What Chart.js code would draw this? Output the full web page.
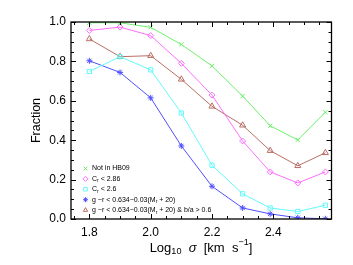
<!DOCTYPE html>
<html>
<head>
<meta charset="utf-8">
<script src="https://cdn.jsdelivr.net/npm/chart.js@4.4.1/dist/chart.umd.min.js"></script>
<style>
  html, body { margin: 0; padding: 0; background: #fff; }
  #wrap { width: 353px; height: 265px; }
</style>
</head>
<body>
<div id="wrap"><canvas id="grafico" width="353" height="265"></canvas></div>
<script>
// log10 sigma bins
var sigmas = [1.8, 1.9, 2.0, 2.1, 2.2, 2.3, 2.39, 2.48, 2.57];

var naoHB09 = [0.996, 0.996, 0.973, 0.886, 0.777, 0.624, 0.473, 0.401, 0.542];
var cr286 = [0.957, 0.974, 0.931, 0.790, 0.629, 0.396, 0.239, 0.183, 0.239];
var cr26 = [0.749, 0.824, 0.757, 0.538, 0.273, 0.128, 0.056, 0.038, 0.070];
var corGr = [0.803, 0.744, 0.615, 0.371, 0.166, 0.056, 0.026, 0.006, 0.001];
var corGrBa = [0.914, 0.824, 0.829, 0.709, 0.572, 0.476, 0.347, 0.270, 0.336];

var xTicks = [1.8, 2.0, 2.2, 2.4];
var yTicks = [0.0, 0.2, 0.4, 0.6, 0.8, 1.0];

var fonte = '"Liberation Sans", Arial, sans-serif';

function Pontos(valores) {
    var pts = [];
    for (var i = 0; i < sigmas.length; i++) {
        pts.push({ x: sigmas[i], y: valores[i] });
    }
    return pts;
}

function Serie(valores, cor, estilo, raio) {
    return {
        data: Pontos(valores),
        showLine: true,
        borderColor: cor,
        backgroundColor: 'rgba(0,0,0,0)',
        borderWidth: 1,
        pointStyle: estilo,
        pointRadius: raio,
        pointBorderColor: cor,
        pointBorderWidth: 1,
        pointBackgroundColor: 'rgba(0,0,0,0)',
        tension: 0
    };
}

var verde = 'rgb(110,240,110)';
var magenta = 'rgb(255,110,255)';
var ciano = 'rgb(100,250,250)';
var azul = 'rgb(80,80,255)';
var marrom = 'rgb(185,110,100)';

// legend rows: [segments, colour, pointStyle]
var legendaItens = [
    [[['Not in HB09', 0]], verde, 'crossRot'],
    [[['C', 0], ['r', 1], [' < 2.86', 0]], magenta, 'rectRot'],
    [[['C', 0], ['r', 1], [' < 2.6', 0]], ciano, 'rect'],
    [[['g \u2212r < 0.634\u22120.03(M', 0], ['r', 1], [' + 20)', 0]], azul, 'star'],
    [[['g \u2212r < 0.634\u22120.03(M', 0], ['r', 1], [' + 20) & b/a > 0.6', 0]], marrom, 'triangle']
];

function TextoPartes(ctx, partes, x, y, tam) {
    for (var i = 0; i < partes.length; i++) {
        var p = partes[i];
        var t = p[1] ? tam * 0.7 : tam;
        var dy = p[1] === 1 ? tam * 0.3 : (p[1] === 2 ? -tam * 0.4 : 0);
        ctx.font = (p[2] ? 'italic ' : '') + t + 'px ' + fonte;
        ctx.fillText(p[0], x, y + dy);
        x += ctx.measureText(p[0]).width;
    }
    return x;
}

function LarguraPartes(ctx, partes, tam) {
    var w = 0;
    for (var i = 0; i < partes.length; i++) {
        var p = partes[i];
        var t = p[1] ? tam * 0.7 : tam;
        ctx.font = (p[2] ? 'italic ' : '') + t + 'px ' + fonte;
        w += ctx.measureText(p[0]).width;
    }
    return w;
}

var moldura = {
    id: 'moldura',
    afterDraw: function (chart) {
        var ctx = chart.ctx;
        var a = chart.chartArea;
        var sx = chart.scales.x, sy = chart.scales.y;
        ctx.save();
        ctx.strokeStyle = '#000';
        ctx.lineWidth = 1.3;
        ctx.strokeRect(a.left, a.top, a.right - a.left, a.bottom - a.top);

        ctx.lineWidth = 1;
        ctx.beginPath();
        // x ticks, major every 0.2 and minor every 0.05
        for (var k = 0; k <= 20; k++) {
            var v = 1.75 + k * 0.05;
            if (v > sx.max + 1e-9) break;
            var px = Math.round(sx.getPixelForValue(v)) + 0.5;
            var maior = Math.abs((v - 1.8) / 0.2 - Math.round((v - 1.8) / 0.2)) < 1e-6;
            var len = maior ? 5 : 3;
            ctx.moveTo(px, a.bottom); ctx.lineTo(px, a.bottom - len);
            ctx.moveTo(px, a.top); ctx.lineTo(px, a.top + len);
        }
        for (var j = 0; j <= 20; j++) {
            var w = j * 0.05;
            var py = Math.round(sy.getPixelForValue(w)) + 0.5;
            var maiorY = j % 4 === 0;
            var lenY = maiorY ? 5 : 3;
            ctx.moveTo(a.left, py); ctx.lineTo(a.left + lenY, py);
            ctx.moveTo(a.right, py); ctx.lineTo(a.right - lenY, py);
        }
        ctx.stroke();

        // legend
        var yl = 168.5;
        for (var i = 0; i < legendaItens.length; i++) {
            var it = legendaItens[i];
            ctx.strokeStyle = it[1];
            ctx.fillStyle = 'rgba(0,0,0,0)';
            ctx.lineWidth = 1;
            Chart.helpers.drawPoint(ctx, {
                pointStyle: it[2], radius: 2.5, borderWidth: 1, rotation: 0
            }, 85.5, yl);
            ctx.fillStyle = '#000';
            ctx.textBaseline = 'middle';
            TextoPartes(ctx, it[0], 92, yl, 7);
            yl += 10.4;
        }

        // x title
        var titulo = [['Log', 0], ['10', 1], ['  ', 0], ['\u03c3', 0, true], ['  [km  s', 0], ['\u22121', 2], [']', 0]];
        ctx.fillStyle = '#000';
        ctx.textBaseline = 'middle';
        var wt = LarguraPartes(ctx, titulo, 13);
        TextoPartes(ctx, titulo, 201 - wt / 2, 248, 13);

        // y title
        ctx.translate(37, (a.top + a.bottom) / 2);
        ctx.rotate(-Math.PI / 2);
        ctx.font = '12.5px ' + fonte;
        ctx.textAlign = 'center';
        ctx.fillText('Fraction', 0, 0);
        ctx.restore();
    }
};

var ctx = document.getElementById('grafico').getContext('2d');

var grafico = new Chart(ctx, {
    type: 'scatter',
    data: {
        datasets: [
            Serie(naoHB09, verde, 'crossRot', 3),
            Serie(cr286, magenta, 'rectRot', 3),
            Serie(cr26, ciano, 'rect', 3),
            Serie(corGr, azul, 'star', 3),
            Serie(corGrBa, marrom, 'triangle', 3.5)
        ]
    },
    options: {
        responsive: false,
        animation: false,
        layout: { padding: { left: 0, top: 22, right: 21.5, bottom: 0 } },
        plugins: {
            legend: { display: false },
            tooltip: { enabled: false }
        },
        scales: {
            x: {
                type: 'linear',
                min: 1.74,
                max: 2.59,
                grid: { display: false, drawTicks: false },
                border: { display: false },
                afterBuildTicks: function (s) {
                    s.ticks = xTicks.map(function (v) { return { value: v }; });
                },
                afterFit: function (s) { s.height = 46; },
                ticks: {
                    color: '#000',
                    padding: 6,
                    maxRotation: 0,
                    font: { family: fonte, size: 12 },
                    callback: function (v) { return v.toFixed(1); }
                }
            },
            y: {
                type: 'linear',
                min: 0,
                max: 1.0,
                grid: { display: false, drawTicks: false },
                border: { display: false },
                afterBuildTicks: function (s) {
                    s.ticks = yTicks.map(function (v) { return { value: v }; });
                },
                afterFit: function (s) { s.width = 71; },
                ticks: {
                    color: '#000',
                    padding: 5,
                    font: { family: fonte, size: 12 },
                    callback: function (v) { return v.toFixed(1); }
                }
            }
        }
    },
    plugins: [moldura]
});
</script>
</body>
</html>
